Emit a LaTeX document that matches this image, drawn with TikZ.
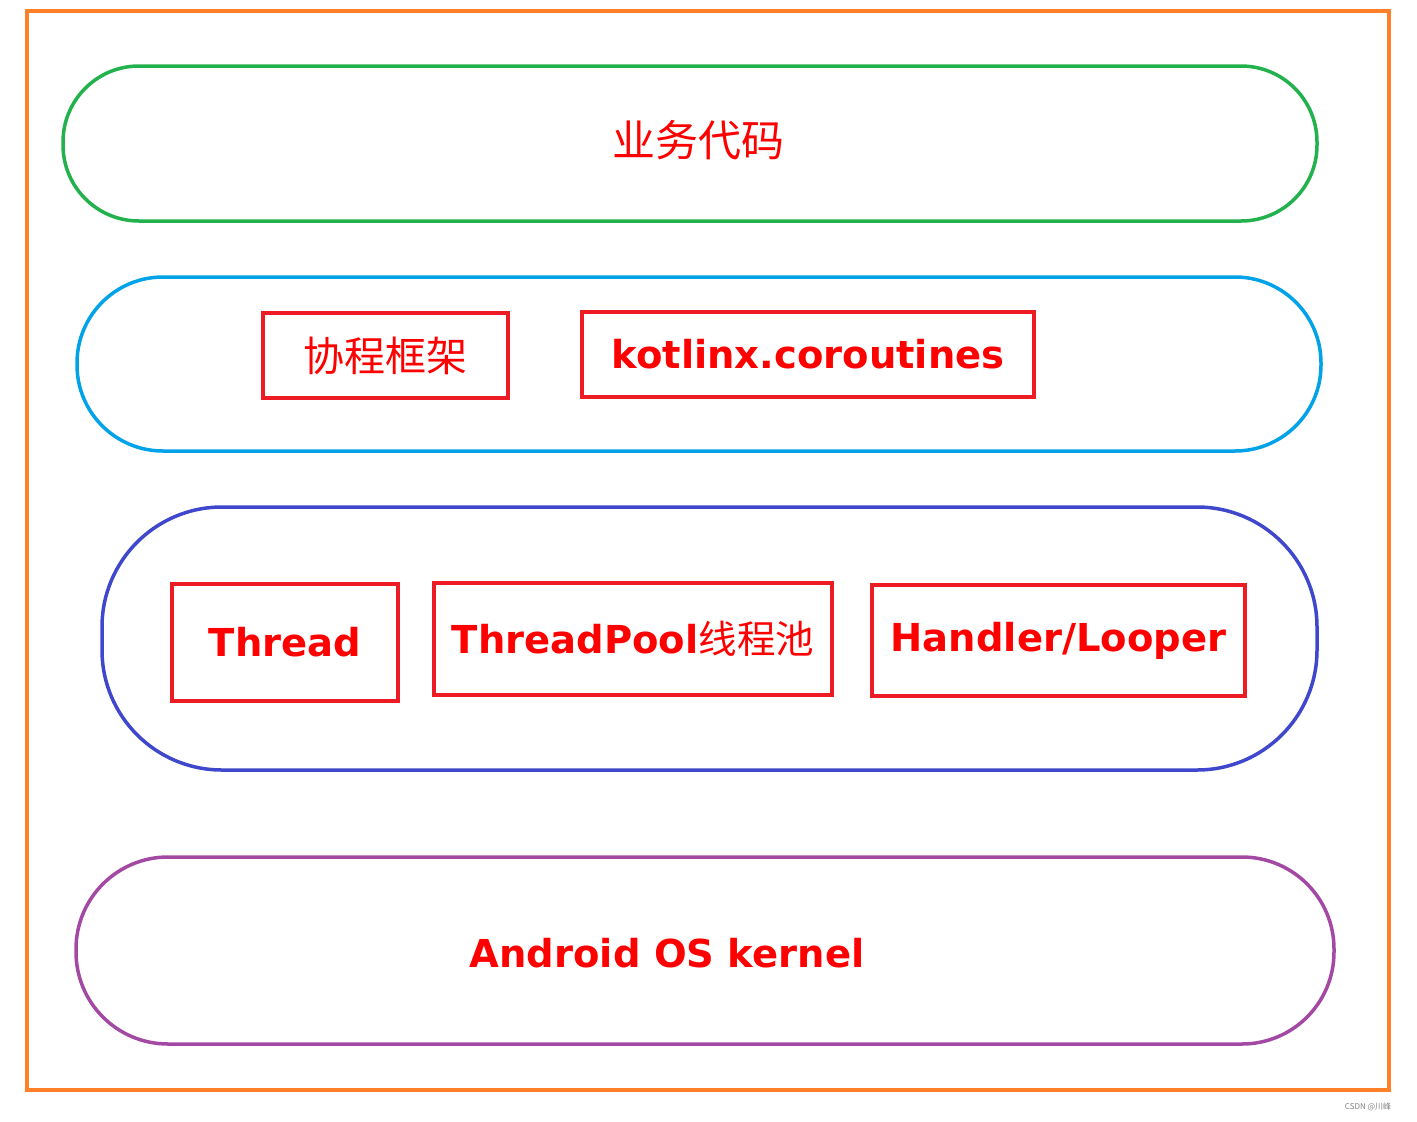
\documentclass[tikz,border=0pt]{standalone}
\usepackage{fontspec}
\setmainfont{DejaVu Sans}
\newfontfamily\cjk{Noto Sans CJK SC}
\usetikzlibrary{positioning}
\definecolor{frameorange}{RGB}{255,128,40}
\definecolor{appgreen}{RGB}{34,177,76}
\definecolor{libcyan}{RGB}{0,162,232}
\definecolor{threadblue}{RGB}{63,72,204}
\definecolor{kernelpurple}{RGB}{163,73,164}
\definecolor{labelred}{RGB}{237,28,36}
\tikzset{%
	layer/.style = {draw, line width=3.5pt, rectangle, inner sep=0pt},
	item/.style  = {draw=labelred, line width=3.5pt, rectangle, inner sep=0pt, text=red, font=\bfseries\fontsize{38.5}{44}\selectfont},
}
\begin{document}
\begin{tikzpicture}[x=1pt,y=-1pt]
	\useasboundingbox (0,0) rectangle (1417,1122);
	\draw[frameorange, line width=3.5pt] (27,11) rectangle (1389,1090);
	% layers
	\node [layer, draw=appgreen, rounded corners=76pt, minimum width=1254pt, minimum height=155pt] (app) at (690,143.5) {};
	\node [layer, draw=libcyan, rounded corners=86pt, minimum width=1244pt, minimum height=174pt] (lib) at (699,364) {};
	\node [layer, draw=threadblue, rounded corners=120pt, minimum width=1215pt, minimum height=263pt] (os) at (709.5,638.5) {};
	\node [layer, draw=kernelpurple, rounded corners=92pt, minimum width=1258pt, minimum height=187pt] (kernel) at (705,950.5) {};
	% texts
	\node [text=red, font=\cjk\fontsize{43}{48}\selectfont] (appname) at (698,140) {业务代码};
	\node [item, minimum width=245pt, minimum height=85pt, font=\cjk\fontsize{41}{46}\selectfont] (framework) at (385.5,355.5) {协程框架};
	\node [item, minimum width=452pt, minimum height=85pt] (kotlinx) at (808,354.5) {kotlinx.coroutines};
	\node [item, minimum width=226pt, minimum height=117pt] (thread) at (285,642.5) {Thread};
	\node [item, minimum width=398pt, minimum height=112pt] (pool) at (633,639) {ThreadPool{\cjk\mdseries 线程池}};
	\node [item, minimum width=373pt, minimum height=111pt] (handler) at (1058.5,640.5) {Handler/Looper};
	\node [text=red, font=\bfseries\fontsize{38.5}{44}\selectfont] (kname) at (667,953) {Android OS kernel};
	\node [text=gray, font=\fontsize{8}{10}\selectfont\cjk] (mark) at (1368,1107) {CSDN @川峰};
\end{tikzpicture}
\end{document}
